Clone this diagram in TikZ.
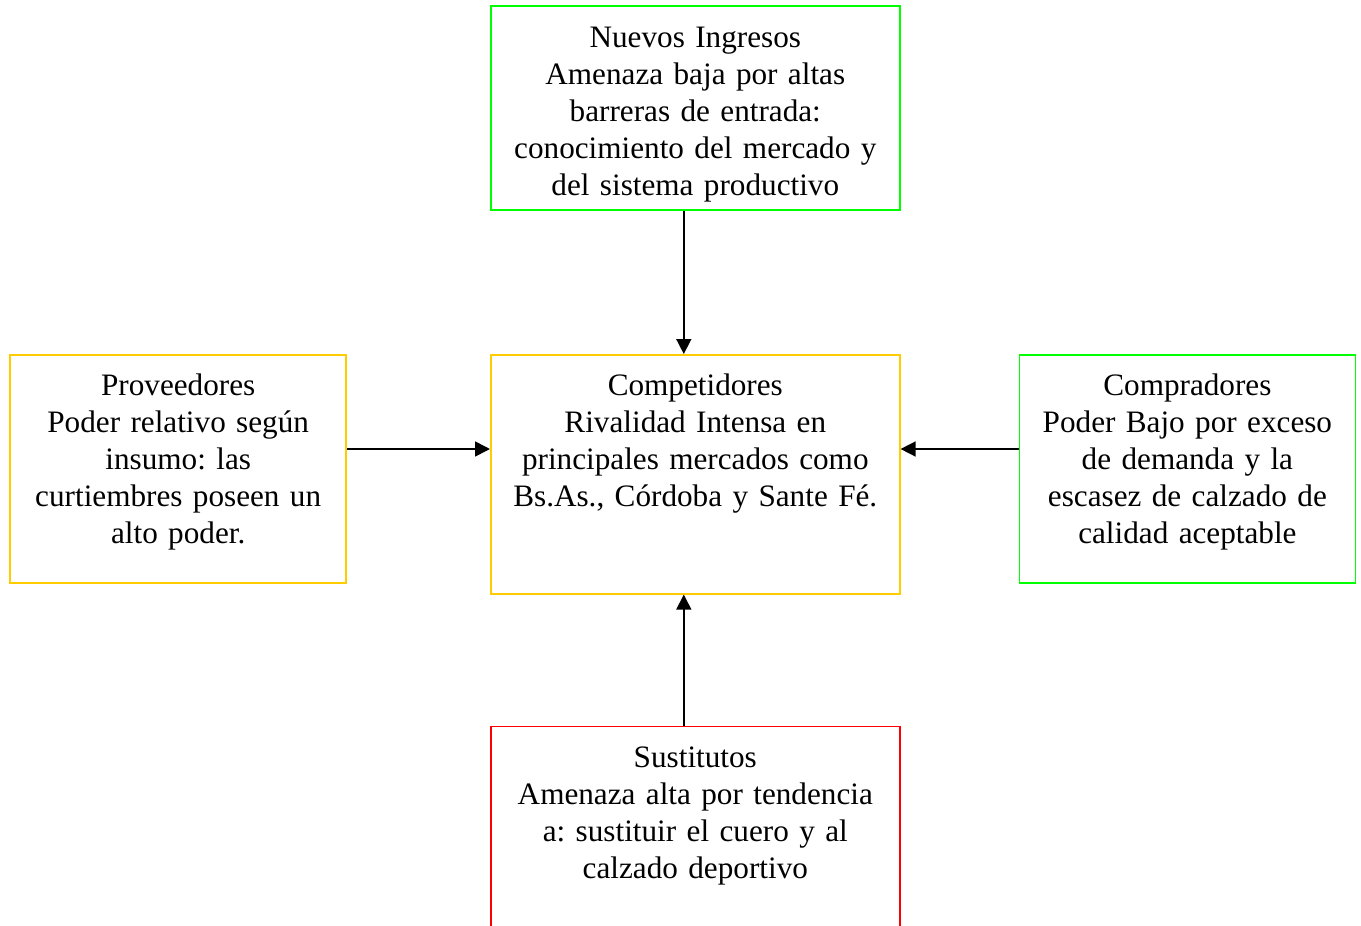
\documentclass[tikz,border=0pt]{standalone}
\usepackage{fontspec}
\setmainfont{Liberation Serif}
\usepackage{xcolor}
\usetikzlibrary{positioning,arrows.meta}

\definecolor{verde}{RGB}{0,255,0}
\definecolor{amarillo}{RGB}{255,204,0}
\definecolor{rojo}{RGB}{255,0,0}
\newcommand{\arranque}{\rule{0pt}{20.5pt}}

\begin{document}
\begin{tikzpicture}[
		x=0.5pt, y=-0.5pt,
		node distance=71.5pt and 71.5pt,
		fuerza/.style={
			draw,
			line width=0.8pt,
			inner sep=0pt,
			align=center,
			text width=204.5pt,
			font=\fontsize{15.6pt}{18.5pt}\selectfont\frenchspacing
		},
		lateral/.style={
			fuerza,
			text width=168pt,
			text depth=93.5pt
		},
		arrow/.style={-{Triangle[length=7.5pt,width=7.5pt]}, line width=0.8pt}
		]
		\useasboundingbox (0,0) rectangle (1361,926);
		\clip (0,0) rectangle (1361,926);
		
		% Rivalidad
		\node[fuerza, draw=amarillo, text depth=99pt, anchor=north west] (comp) at (490,354) {
			\arranque Competidores\\
			Rivalidad Intensa en\\
			principales mercados como\\
			Bs.As., Córdoba y Sante Fé.
		};
		
		% Nuevos ingresos
		\node[fuerza, draw=verde, text depth=81.5pt, above=of comp] (nuevos) {
			\arranque Nuevos Ingresos\\
			Amenaza baja por altas\\
			barreras de entrada:\\
			conocimiento del mercado y\\
			del sistema productivo
		};
		
		% Sustitutos
		\node[fuerza, draw=rojo, text depth=99pt, below=65.5pt of comp] (sust) {
			\arranque Sustitutos\\
			Amenaza alta por tendencia\\
			a: sustituir el cuero y al\\
			calzado deportivo
		};
		
		% Proveedores
		\node[lateral, draw=amarillo, left=71.5pt of comp.north west, anchor=north east] (prov) {
			\arranque Proveedores\\
			Poder relativo según\\
			insumo: las\\
			curtiembres poseen un\\
			alto poder.
		};
		
		% Compradores
		\node[lateral, draw=verde, right=59pt of comp.north east, anchor=north west] (compr) {
			\arranque Compradores\\
			Poder Bajo por exceso\\
			de demanda y la\\
			escasez de calzado de\\
			calidad aceptable
		};
		
		% Arrows
		\draw[arrow] ([xshift=-5.75pt]nuevos.south) -- ([xshift=-5.75pt]comp.north);
		\draw[arrow] ([xshift=-5.75pt]sust.north) -- ([xshift=-5.75pt]comp.south);
		\draw[arrow] ([yshift=-47.5pt]prov.north east) -- ([yshift=-47.5pt]comp.north west);
		\draw[arrow] ([yshift=-47.5pt]compr.north west) -- ([yshift=-47.5pt]comp.north east);
		
\end{tikzpicture}
\end{document}
